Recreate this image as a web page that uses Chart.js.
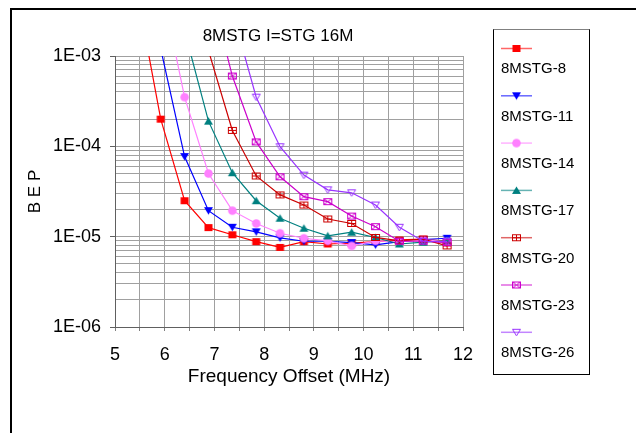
<!DOCTYPE html>
<html>
<head>
<meta charset="utf-8">
<script src="https://cdn.jsdelivr.net/npm/chart.js@4/dist/chart.umd.min.js"></script>
<style>
  html, body { margin: 0; padding: 0; background: #fff; }
  #wrap  { position: relative; width: 636px; height: 433px; overflow: hidden; }
  #frame { position: absolute; left: 10px; top: 8px; width: 700px; height: 500px;
           border-left: 2px solid #000; border-top: 2px solid #000; pointer-events: none; }
  canvas { position: absolute; left: 0; top: 0; }
</style>
</head>
<body>
<div id="wrap">
  <canvas id="bepChart" width="636" height="433"></canvas>
  <div id="frame"></div>
</div>
<script>
/* global Chart */

// ---------- DATA ----------
const TITLE   = '8MSTG I=STG 16M';
const X_TITLE = 'Frequency Offset (MHz)';
const Y_TITLE = 'B E P';

// frequency offset of every measurement (MHz); first column runs off the top
const X_MHZ = [5.44, 5.92, 6.40, 6.88, 7.36, 7.84, 8.32, 8.80, 9.28, 9.76, 10.24, 10.72, 11.20, 11.68];

const BEP_8  = [5.2e-3, 2.0e-4, 2.5e-5, 1.26e-5, 1.05e-5, 8.8e-6, 7.6e-6, 8.8e-6, 8.3e-6, 8.5e-6, 8.8e-6, 9.2e-6, 9.4e-6, 8.9e-6];
const BEP_11 = [null, 1.2e-3, 7.7e-5, 1.94e-5, 1.27e-5, 1.13e-5, 9.7e-6, 8.9e-6, 8.9e-6, 8.6e-6, 8.1e-6, 8.8e-6, 9.3e-6, 9.6e-6];
const BEP_14 = [null, 6.5e-3, 3.5e-4, 5.0e-5, 1.94e-5, 1.4e-5, 1.09e-5, 9.6e-6, 9.0e-6, 7.9e-6, 9.0e-6, 8.8e-6, 9.2e-6, 8.8e-6];
const BEP_17 = [null, null, 1.9e-3, 1.9e-4, 5.1e-5, 2.5e-5, 1.6e-5, 1.24e-5, 1.02e-5, 1.12e-5, 9.8e-6, 8.3e-6, 8.7e-6, 9.0e-6];
const BEP_20 = [null, null, null, 1.15e-3, 1.5e-4, 4.7e-5, 2.9e-5, 2.24e-5, 1.57e-5, 1.4e-5, 9.8e-6, 9.0e-6, 9.4e-6, 7.9e-6];
const BEP_23 = [null, null, null, 6.6e-3, 6.0e-4, 1.12e-4, 4.6e-5, 2.77e-5, 2.44e-5, 1.69e-5, 1.29e-5, 8.9e-6, 8.9e-6, 8.6e-6];
const BEP_26 = [null, null, null, null, 3.1e-3, 3.5e-4, 9.9e-5, 4.8e-5, 3.3e-5, 3.06e-5, 2.24e-5, 1.27e-5, 8.9e-6, 8.8e-6];

const SERIES_LABELS = ['8MSTG-8', '8MSTG-11', '8MSTG-14', '8MSTG-17', '8MSTG-20', '8MSTG-23', '8MSTG-26'];
const SERIES_VALUES = [BEP_8, BEP_11, BEP_14, BEP_17, BEP_20, BEP_23, BEP_26];

// ---------- STYLE ----------
const COLORS  = ['#ff0000', '#0000ff', '#ff80ff', '#008080', '#cc0000', '#cc00cc', '#9933ff'];
const MARKERS = ['square', 'triDown', 'circle', 'triUp', 'boxPlus', 'boxX', 'triDownOpen'];
const FONT    = '"Liberation Sans", Arial, sans-serif';

Chart.defaults.font.family = FONT;

/* small canvas used as pointStyle (Excel-like markers) */
function makeMarker (kind, color) {
  const c = document.createElement('canvas');
  c.width = 11; c.height = 11;
  const g = c.getContext('2d');
  g.fillStyle = color; g.strokeStyle = color; g.lineWidth = 1;
  g.beginPath();
  switch (kind) {
    case 'square':
      g.fillRect(1.5, 2, 8, 7); break;
    case 'triDown':
      g.moveTo(1, 2); g.lineTo(10, 2); g.lineTo(5.5, 9.5); g.closePath(); g.fill(); break;
    case 'circle':
      g.arc(5.5, 5.5, 4.3, 0, Math.PI * 2); g.fill(); break;
    case 'triUp':
      g.moveTo(5.5, 1.5); g.lineTo(10, 9); g.lineTo(1, 9); g.closePath(); g.fill(); break;
    case 'boxPlus':
      g.strokeRect(1.5, 2.5, 8, 6);
      g.moveTo(5.5, 2.5); g.lineTo(5.5, 8.5); g.moveTo(1.5, 5.5); g.lineTo(9.5, 5.5); g.stroke(); break;
    case 'boxX':
      g.strokeRect(1.5, 2.5, 8, 6);
      g.moveTo(1.5, 2.5); g.lineTo(9.5, 8.5); g.moveTo(9.5, 2.5); g.lineTo(1.5, 8.5); g.stroke(); break;
    case 'triDownOpen':
      g.moveTo(1.5, 2.5); g.lineTo(9.5, 2.5); g.lineTo(5.5, 9); g.closePath(); g.stroke(); break;
  }
  return c;
}

const toPoints = vals => X_MHZ.map((x, i) => ({ x, y: vals[i] })).filter(p => p.y !== null);

const isDecade = v => Math.abs(Math.log10(v) - Math.round(Math.log10(v))) < 1e-9;

// ---------- PLUGINS ----------
const chartTitle = {
  id: 'chartTitle',
  afterDraw (chart) {
    const { ctx } = chart;
    ctx.save();
    ctx.fillStyle = '#000';
    ctx.font = `17px ${FONT}`;
    ctx.textAlign = 'center';
    ctx.textBaseline = 'middle';
    ctx.fillText(TITLE, 278, 36);
    ctx.restore();
  }
};

const legendBox = {
  id: 'legendBox',
  afterDraw (chart) {
    const { ctx } = chart;
    const L = 493.5, T = 29.5, W = 96, H = 345;
    ctx.save();
    ctx.lineWidth = 1;
    ctx.strokeStyle = '#000';
    ctx.strokeRect(L, T, W, H);
    ctx.strokeStyle = '#808080';
    ctx.beginPath(); ctx.moveTo(L, T); ctx.lineTo(L + W, T); ctx.stroke();

    chart.data.datasets.forEach((ds, i) => {
      const y = 48.5 + i * 47.3;
      ctx.globalAlpha = 0.6;
      ctx.strokeStyle = ds.borderColor;
      ctx.lineWidth = 1.5;
      ctx.beginPath(); ctx.moveTo(501, y); ctx.lineTo(532, y); ctx.stroke();
      ctx.globalAlpha = 1;
      const m = ds.pointStyle;
      ctx.drawImage(m, 516.5 - m.width / 2, y - m.height / 2);
      ctx.fillStyle = '#000';
      ctx.font = `15px ${FONT}`;
      ctx.textAlign = 'left';
      ctx.textBaseline = 'middle';
      ctx.fillText(ds.label, 501, y + 20.7);
    });
    ctx.restore();
  }
};

// ---------- CHART ----------
new Chart(document.getElementById('bepChart'), {
  type: 'line',
  data: {
    datasets: SERIES_LABELS.map((label, i) => ({
      label,
      data: toPoints(SERIES_VALUES[i]),
      borderColor: COLORS[i],
      backgroundColor: COLORS[i],
      borderWidth: 1.2,
      pointStyle: makeMarker(MARKERS[i], COLORS[i]),
      pointRadius: 4,
      pointHoverRadius: 4,
      tension: 0,
      order: SERIES_LABELS.length - i       // later series on top, like Excel
    }))
  },
  options: {
    responsive: false,
    animation: false,
    events: [],
    layout: { padding: { left: 0, top: 56, right: 173, bottom: 0 } },
    plugins: {
      legend: { display: false },
      title: { display: false },
      tooltip: { enabled: false }
    },
    scales: {
      x: {
        type: 'linear',
        min: 5, max: 12,
        ticks: {
          stepSize: 0.5,
          autoSkip: false,
          maxRotation: 0,
          color: '#000',
          font: { size: 18 },
          padding: 13,
          callback: v => (Math.abs(v - Math.round(v)) < 1e-6 ? String(Math.round(v)) : '')
        },
        grid: { color: '#a0a0a0', tickLength: 4, tickColor: '#808080' },
        border: { color: '#606060' },
        title: {
          display: true, text: X_TITLE, color: '#000',
          font: { size: 19 }, padding: { top: 0, bottom: 45 }
        },
        afterFit: s => { s.height = 106; }
      },
      y: {
        type: 'logarithmic',
        min: 1e-6, max: 1e-3,
        afterBuildTicks: s => {
          const t = [];
          for (let e = -6; e < -3; e++) {
            for (let m = 1; m <= 9; m++) t.push({ value: m * Math.pow(10, e) });
          }
          t.push({ value: 1e-3 });
          s.ticks = t;
        },
        ticks: {
          autoSkip: false,
          color: '#000',
          font: { size: 18 },
          padding: 9,
          callback: v => {
            if (!isDecade(v)) return '';
            const e = Math.round(Math.log10(v));
            return '1E-' + String(-e).padStart(2, '0');
          }
        },
        grid: {
          color: '#a0a0a0',
          tickLength: 5,
          tickColor: c => (c.tick && isDecade(c.tick.value) ? '#606060' : 'rgba(0,0,0,0)')
        },
        border: { color: '#606060' },
        title: {
          display: true, text: Y_TITLE, color: '#000',
          font: { size: 17 }, padding: { top: 25, bottom: 0 }
        },
        afterFit: s => { s.width = 115; }
      }
    }
  },
  plugins: [chartTitle, legendBox]
});
</script>
</body>
</html>
